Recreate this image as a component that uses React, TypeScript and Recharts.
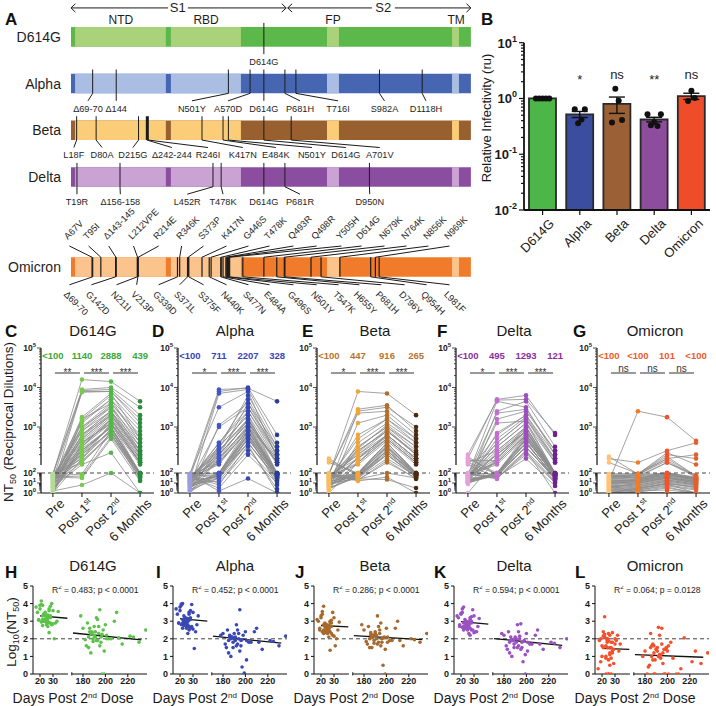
import React from "react";
import {
  Bar,
  Cell,
  ComposedChart,
  ErrorBar,
  Line,
  ReferenceArea,
  ReferenceLine,
  Scatter,
  XAxis,
  YAxis,
} from "recharts";

const FONT = "'Liberation Sans', Arial, Helvetica, sans-serif";

// ---------- shared categories ----------
const variants = ["D614G", "Alpha", "Beta", "Delta", "Omicron"];

// ---------- panel A: spike maps (amino-acid positions) ----------
const spikeLength = 1273;
const lightSpans: [number, number][] = [
  [13, 302],
  [318, 541],
  [815, 853],
  [1213, 1235],
];
const domainLabels = ["NTD", "RBD", "FP", "TM"];
const domainCentres = [159, 430, 834, 1226];
const genomeRows = [0, 1, 2, 3, 4.93];
const genomeColors = [
  ["#5cb84a", "#a9d27b"],
  ["#4766b2", "#aabee3"],
  ["#99602f", "#fbcd78"],
  ["#8b4d9f", "#caa3d4"],
  ["#f07b2b", "#fbc48c"],
];

type Mut = [string, number, number]; // label, residue, label residue
const d614gMuts: Mut[] = [["D614G", 614, 614]];
const alphaMuts: Mut[] = [
  ["Δ69-70", 69, 54],
  ["Δ144", 144, 144],
  ["N501Y", 501, 385],
  ["A570D", 570, 500],
  ["D614G", 614, 614],
  ["P681H", 681, 729],
  ["T716I", 716, 850],
  ["S982A", 982, 998],
  ["D1118H", 1118, 1130],
];
const betaMuts: Mut[] = [
  ["L18F", 18, 9],
  ["D80A", 80, 99],
  ["D215G", 215, 197],
  ["Δ242-244", 242, 321],
  ["R246I", 246, 436],
  ["K417N", 417, 547],
  ["E484K", 484, 652],
  ["N501Y", 501, 767],
  ["D614G", 614, 875],
  ["A701V", 701, 983],
];
const deltaMuts: Mut[] = [
  ["T19R", 19, 19],
  ["Δ156-158", 156, 157],
  ["L452R", 452, 370],
  ["T478K", 478, 484],
  ["D614G", 614, 614],
  ["P681R", 681, 729],
  ["D950N", 950, 951],
];
const omicronTop: Mut[] = [
  ["A67V", 67, -10],
  ["T95I", 95, 51],
  ["Δ143-145", 143, 115],
  ["L212VPE", 212, 194],
  ["R214E", 214, 274],
  ["R346K", 346, 347],
  ["S373P", 373, 417],
  ["K417N", 417, 490],
  ["G446S", 446, 560],
  ["T478K", 478, 627],
  ["Q493R", 493, 703],
  ["Q498R", 498, 777],
  ["Y505H", 505, 856],
  ["D614G", 614, 920],
  ["N679K", 679, 993],
  ["N764K", 764, 1063],
  ["N856K", 856, 1133],
  ["N969K", 969, 1200],
];
const omicronBottom: Mut[] = [
  ["Δ69-70", 69, -10],
  ["G142D", 142, 60],
  ["N211I", 211, 140],
  ["V213P", 213, 204],
  ["G339D", 339, 274],
  ["S371L", 371, 341],
  ["S375F", 375, 417],
  ["N440K", 440, 490],
  ["S477N", 477, 560],
  ["E484A", 484, 627],
  ["G496S", 496, 703],
  ["N501Y", 501, 777],
  ["T547K", 547, 847],
  ["H655Y", 655, 913],
  ["P681H", 681, 983],
  ["D796Y", 796, 1057],
  ["Q954H", 954, 1127],
  ["L981F", 981, 1200],
];
const thickMutations = new Set(["Δ242-244", "Δ143-145"]);

// ---------- panel B: relative infectivity ----------
const infMean = [1.0, 0.52, 0.8, 0.42, 1.1];
const infSem = [0, 0.065, 0.26, 0.04, 0.14];
const infDots = [
  [1, 1, 1, 1, 1],
  [0.64, 0.36, 0.42, 0.64],
  [0.37, 1.5, 0.91, 0.41],
  [0.52, 0.33, 0.38, 0.32, 0.52],
  [0.9, 1.37, 1.02],
];
const infSig = ["", "*", "ns", "**", "ns"];
const barColors = ["#4cb649", "#3a4d9f", "#9b6035", "#8e4c9c", "#ef4d2a"];

// ---------- panels C-G: NT50 (log10) per subject ----------
const timeLabels = [
  ["Pre", ""],
  ["Post 1", "st"],
  ["Post 2", "nd"],
  ["6 Months", ""],
];
const d614gPre = [1.2,0.5,1.8,0,1.5,0.9,1.9,0.3,1.1,1.6,0.7,1.4, 0,1.9,1.0,0.6,1.7,1.3,0.2,1.8,0.8,1.5,1.9,0.4, 1.2,1.6,0,1.0,1.7,0.5,1.3,1.9,0.9,1.4,0.1,1.8, 1.1,0.7,1.6,1.2,0.3,1.9,1.5,0.8,1.0,1.7,0.6,1.4];
const d614gPost1 = [2.8,3.9,2.3,2.6,3.2,2.1,4.2,2.5,2.9,1.5,2.4,3.0, 2.2,3.95,2.7,2.05,2.6,3.1,0.8,2.4,2.8,2.3,3.92,2.5, 2.15,2.9,3.2,2.6,1.9,2.35,3.0,2.2,2.7,3.88,2.45,2.1, 2.8,2.55,1.7,3.15,2.3,2.65,2.95,2.4,3.25,2.2,2.75,2.5];
const d614gPost2 = [3.3,3.9,2.9,3.1,3.6,2.8,4.15,3.2,3.4,2.7,3.0,3.5, 2.9,4.0,3.3,2.35,3.1,3.7,2.0,3.0,3.4,2.9,3.95,3.2, 2.8,3.5,3.8,3.2,2.9,3.0,3.6,3.1,3.3,3.9,3.0,2.85, 3.4,3.15,2.75,3.7,3.05,3.25,3.55,3.0,3.85,2.95,3.35,3.1];
const d614gMonth6 = [2.3,3.2,1.8,2.1,2.8,1.6,3.65,2.2,2.5,1.2,2.0,2.6, 1.9,3.5,2.4,0,2.1,2.9,0,2.0,2.3,1.7,3.3,2.2, 1.9,2.4,3.0,2.1,1.5,1.8,2.7,2.0,2.3,3.1,1.95,1.3, 2.4,2.15,1.6,2.6,2.05,2.25,2.5,1.85,2.7,2.0,2.35,2.1];

const alphaPre = [0.9,1.5,0.3,1.8,1.1,0.6,1.9,1.3,0,1.6,0.8,1.2, 1.9,0.4,1.7,1.0,1.4,0.2,1.8,0.7,1.5,1.1,1.9,0.5, 1.3,1.6,0,1.0,1.8,0.6,1.4,1.9,0.9,1.2,0.1,1.7, 1.5,0.8,1.9,1.1,0.3,1.6,1.3,0.7,1.0,1.8,0.4,1.5];
const alphaPost1 = [2.3,3.9,1.5,2.1,3.0,1.8,3.95,2.4,2.2,0.5,2.0,2.6, 1.9,3.85,2.3,1.2,2.1,3.05,0.2,2.0,2.5,1.7,3.5,2.2, 1.6,2.4,2.55,2.1,1.0,1.8,2.6,2.0,2.3,2.45,1.9,0.8, 2.2,2.0,1.4,2.35,1.95,2.15,2.5,1.5,2.25,1.7,2.4,2.05];
const alphaPost2 = [3.1,4.0,2.7,2.9,3.5,2.6,3.98,3.2,3.0,2.3,2.8,3.4, 2.7,3.95,3.1,2.5,2.9,3.6,1.45,2.8,3.3,2.6,3.9,3.0, 2.7,3.2,3.7,3.0,2.4,2.8,3.5,2.9,3.1,3.8,2.85,2.55, 3.2,3.0,2.6,3.4,2.9,3.05,3.3,2.75,3.6,2.8,3.15,2.95];
const alphaMonth6 = [2.1,2.8,1.6,1.9,2.4,1.5,3.65,2.0,2.2,1.0,1.8,2.3, 1.7,2.6,2.1,0.4,1.9,2.5,0,1.8,2.0,1.4,2.2,1.9, 1.6,2.1,2.4,1.9,1.2,1.6,2.3,1.8,2.0,2.5,1.7,0.05, 2.1,1.9,1.3,2.2,1.8,1.95,2.15,1.5,2.3,0.8,2.05,1.85];

const betaPre = [1.2,1.8,0.5,2.1,1.4,0.9,1.9,1.6,0,1.7,1.1,1.3, 2.2,0.7,1.8,1.0,1.5,0.3,1.9,0.8,1.6,1.2,2.0,0.6, 1.4,1.7,0.2,1.1,1.9,0.9,1.5,2.15,1.0,1.3,0.4,1.8, 1.6,0.9,1.9,1.2,0.5,1.7,1.4,0.8,1.1,1.85,0.6,1.5];
const betaPost1 = [2.2,3.9,1.6,2.0,2.7,1.8,3.45,2.3,2.1,1.3,1.9,2.5, 1.7,3.4,2.2,1.4,2.0,3.1,1.2,1.9,2.4,1.6,3.35,2.1, 1.5,2.3,2.6,2.0,1.4,1.8,2.5,1.9,2.2,2.8,1.7,1.3, 2.1,1.9,1.5,2.4,1.8,2.05,2.35,1.6,2.45,1.7,2.25,1.95];
const betaPost2 = [2.8,3.85,2.4,2.6,3.2,2.3,3.55,2.9,2.7,2.1,2.5,3.0, 2.4,3.5,2.8,1.35,2.6,3.3,1.6,2.5,2.9,2.3,3.4,2.7, 2.2,2.8,3.1,2.6,2.0,2.4,3.0,2.5,2.7,3.2,2.45,2.15, 2.8,2.6,2.3,2.9,2.5,2.65,2.95,2.35,3.05,2.4,2.75,2.55];
const betaMonth6 = [2.2,3.3,1.8,2.0,2.6,1.7,2.9,2.3,2.1,1.5,1.9,2.5, 1.8,3.0,2.2,0.5,2.0,2.7,0,1.9,2.3,1.6,2.8,2.1, 1.7,2.2,2.6,2.0,1.5,1.8,2.4,1.9,2.1,2.7,1.85,1.4, 2.2,2.0,1.6,2.35,1.9,2.05,2.3,1.75,2.5,1.8,2.15,1.95];

const deltaPre = [1.5,2.2,1.0,1.8,2.0,1.2,2.3,1.6,0,1.9,1.3,1.7, 2.1,1.1,1.8,1.4,2.0,0.9,1.9,1.2,1.6,2.25,1.8,1.0, 1.5,2.1,1.3,1.7,1.9,1.1,1.6,2.2,1.4,1.8,1.0,2.05, 1.7,1.2,1.9,1.5,1.1,2.15,1.6,1.3,1.4,2.0,1.2,1.75];
const deltaPost1 = [2.3,3.7,1.8,2.1,2.8,1.9,3.68,2.4,2.2,1.5,2.0,2.6, 1.9,3.4,2.3,1.6,2.1,3.2,1.4,2.0,2.5,1.8,3.65,2.2, 1.7,2.4,2.85,2.1,1.6,1.9,2.6,2.0,2.3,3.35,1.95,1.5, 2.2,2.0,1.7,2.5,1.9,2.15,3.1,1.8,2.7,1.9,2.35,2.05];
const deltaPost2 = [2.9,3.8,2.6,2.8,3.3,2.5,3.7,3.0,2.9,2.3,2.7,3.2, 2.6,3.65,2.9,2.2,2.8,3.4,2.4,2.7,3.1,2.5,3.5,2.9, 2.5,3.0,3.3,2.8,2.4,2.6,3.2,2.7,2.9,3.45,2.75,2.35, 3.0,2.8,2.5,3.1,2.7,2.85,3.15,2.6,3.25,2.65,2.95,2.75];
const deltaMonth6 = [1.9,2.8,1.5,1.8,2.3,1.4,2.85,2.0,1.9,1.0,1.7,2.2, 1.6,2.5,1.9,0.7,1.8,2.4,0,1.7,2.0,1.4,2.3,1.8, 1.5,1.9,2.2,1.8,1.2,1.5,2.1,1.7,1.9,2.4,1.6,1.1, 2.0,1.8,1.4,2.1,1.7,1.85,2.0,1.5,2.15,1.3,1.95,1.75];

const omicronPre = [0.5,1.2,0,1.8,0.9,0.3,2.2,1.0,0,1.5,0.6,1.1, 1.9,0.2,1.4,0.8,1.6,0,1.7,0.4,1.3,2.25,1.0,0.1, 0.7,1.5,0,0.9,2.1,0.3,1.2,1.8,0.5,1.0,0,1.6, 1.3,0.6,1.9,0.8,0.2,1.4,1.1,0.4,0.7,1.7,0,1.2];
const omicronPost1 = [1.0,3.4,0.5,1.5,1.2,0.3,2.1,1.3,0,1.8,0.8,1.4, 1.9,0.2,1.6,0,1.7,0.4,1.5,0.6,1.2,1.9,1.1,0, 0.9,1.6,0.2,1.0,1.95,0.5,1.3,1.7,0.7,1.1,0,1.8, 1.4,0.6,1.9,1.0,0.3,1.5,1.2,0.4,0.8,1.85,0.1,1.3];
const omicronPost2 = [1.5,3.25,0.9,2.0,1.7,0.8,2.4,1.8,0,2.2,1.3,1.9, 2.3,0.6,2.1,0,2.0,1.0,1.9,1.2,1.6,2.35,1.5,0, 1.4,2.0,0.3,1.5,2.2,1.0,1.8,2.1,1.2,1.6,0,2.0, 1.9,1.1,2.25,1.5,0.7,1.9,1.7,0.9,1.3,2.15,0.5,1.8];
const omicronMonth6 = [1.2,2.65,0.6,1.5,1.3,0.4,2.6,1.4,0,1.7,0.9,1.3, 2.2,0,1.6,0,1.5,0.5,1.4,0.8,1.1,2.05,1.0,0, 1.0,1.6,0,1.2,2.3,0.6,1.4,1.8,0.8,1.1,0,1.5, 1.3,0.7,1.7,1.0,0.3,1.4,1.2,0,0.9,1.6,0,1.3];

const titers = [
  [d614gPre, d614gPost1, d614gPost2, d614gMonth6],
  [alphaPre, alphaPost1, alphaPost2, alphaMonth6],
  [betaPre, betaPost1, betaPost2, betaMonth6],
  [deltaPre, deltaPost1, deltaPost2, deltaMonth6],
  [omicronPre, omicronPost1, omicronPost2, omicronMonth6],
];
const gmtLabels = [
  ["<100", "1140", "2888", "439"],
  ["<100", "711", "2207", "328"],
  ["<100", "447", "916", "265"],
  ["<100", "495", "1293", "121"],
  ["<100", "<100", "101", "<100"],
];
const sigLabels = [
  ["**", "***", "***"],
  ["*", "***", "***"],
  ["*", "***", "***"],
  ["*", "***", "***"],
  ["ns", "ns", "ns"],
];
const dotColors = [
  ["#b3db97", "#76cc4a", "#52b848", "#2b8a3e"],
  ["#9a9ee0", "#4356c8", "#3447b2", "#2a3c9a"],
  ["#f6bd63", "#f0a53a", "#b06e2b", "#4b2a12"],
  ["#e7a0dc", "#c070cf", "#9e4dbd", "#6e2190"],
  ["#fcc37a", "#f57a24", "#f2542a", "#e2602c"],
];
const gmtColors = ["#3aa935", "#3a3fbf", "#b8742f", "#8a2ca0", "#f05a28"];

// ---------- panels H-L: days after 2nd dose ----------
const daysPost2 = [24,22,27,19,30,25,21,28,23,26,33,18, 25,29,22,27,24,20,31,26,23,28,21,25, 29,24,17,26,32,23,27,22,28,20,25,30, 24,26,22,27,19,25,34,23,28,21,26,24];
const daysMonth6 = [188,192,196,185,200,183,195,190,198,187,205,180, 193,210,186,197,191,184,199,189,194,215,178,201, 192,188,208,196,185,230,190,203,187,193,182,199, 191,222,195,186,212,197,236,189,194,201,188,225];
const dayTicks = [20, 30, 180, 200, 220];
const fitIntercept = [3.43, 3.28, 2.83, 3.1, 1.5];
const fitSlope = [-0.00643, -0.0066, -0.00377, -0.00637, -0.00236];
const r2Values = ["0.483", "0.452", "0.286", "0.594", "0.064"];
const pValues = ["p < 0.0001", "p < 0.0001", "p < 0.0001", "p < 0.0001", "p = 0.0128"];
const scatterColors = ["#5cc24a", "#3a48b5", "#a66a2e", "#9a52c2", "#f4502b"];

// ---------- layout ----------
const titerAxisX = [41, 178, 317, 456, 597];
const decayAxisX = [33, 173, 314, 454, 595];
const titleX = [93, 235, 375, 514, 655];
const letterTopX = [5, 152, 302, 437, 573];
const letterBottomX = [5, 156, 295, 434, 575];

// broken axes: lower part 10^0-10^2 compressed, upper part 10^2-10^5
const yBreak = (lg: number) => (lg <= 2 ? lg : 2.65 + (lg - 2) * 3.95);
const xBreak = (day: number) => (day < 100 ? 7 + (day - 20) * 1.3 : 50 + (day - 180) * 1.12);

type TextItem = {
  x: number;
  y: number;
  text: string;
  size?: number;
  bold?: boolean;
  fill?: string;
  anchor?: "start" | "middle" | "end";
  rot?: number;
  base?: string;
  dy?: number;
  sup?: string;
  tail?: string;
};

const textShape = (props: any) => {
  const { cx, cy, payload } = props;
  if (cx == null || cy == null || !payload) return <g />;
  const t = payload as TextItem;
  const size = t.size ?? 10;
  return (
    <text
      x={cx}
      y={cy}
      dy={t.dy ?? 0}
      textAnchor={t.anchor ?? "middle"}
      dominantBaseline={t.base ?? "central"}
      fontSize={size}
      fontWeight={t.bold ? 700 : 400}
      fill={t.fill ?? "#1e1e1e"}
      fontFamily={FONT}
      transform={t.rot ? `rotate(${t.rot} ${cx} ${cy})` : undefined}
    >
      {t.text}
      {t.sup ? (
        <tspan dy={-size * 0.4} fontSize={size * 0.7}>
          {t.sup}
        </tspan>
      ) : null}
      {t.tail ? <tspan dy={t.sup ? size * 0.4 : 0}>{t.tail}</tspan> : null}
    </text>
  );
};

const dotShape = (r: number, fill: string) => (props: any) =>
  props.cx == null ? <g /> : <circle cx={props.cx} cy={props.cy} r={r} fill={fill} />;

type Seg = { x1: number; y1: number; x2: number; y2: number; w: number };

function GenomePanel() {
  const segs: Seg[] = [];
  const texts: TextItem[] = [];
  const seg = (x1: number, y1: number, x2: number, y2: number, w = 1) => segs.push({ x1, y1, x2, y2, w });

  // S1 / S2 arrows
  const ay = -0.62;
  const arrow = (a: number, b: number, gapA: number, gapB: number) => {
    seg(a, ay, gapA, ay);
    seg(gapB, ay, b, ay);
    seg(a, ay, a + 14, ay - 0.09);
    seg(a, ay, a + 14, ay + 0.09);
    seg(b, ay, b - 14, ay - 0.09);
    seg(b, ay, b - 14, ay + 0.09);
  };
  arrow(0, 685, 309, 372);
  arrow(690, spikeLength, 958, 1031);
  texts.push({ x: 340, y: ay, text: "S1", size: 13 });
  texts.push({ x: 994, y: ay, text: "S2", size: 13 });
  domainLabels.forEach((d, i) => texts.push({ x: domainCentres[i], y: -0.36, text: d, size: 12 }));

  variants.forEach((name, i) => texts.push({ x: -32, y: genomeRows[i], text: name, anchor: "end", size: 14 }));

  [d614gMuts, alphaMuts, betaMuts, deltaMuts].forEach((muts, i) => {
    const r = genomeRows[i];
    muts.forEach(([label, aa, lx]) => {
      const w = thickMutations.has(label) ? 2.4 : 1;
      seg(aa, r - 0.3, aa, r + 0.21, w);
      seg(aa, r + 0.21, lx, r + 0.37);
      texts.push({ x: lx, y: r + 0.54, text: label, size: 9.2 });
    });
  });

  const ro = genomeRows[4];
  omicronTop.forEach(([label, aa, lx]) => {
    seg(aa, ro - 0.21, aa, ro + 0.21, thickMutations.has(label) ? 1.8 : 1.2);
    seg(aa, ro - 0.21, lx + 5, ro - 0.45);
    texts.push({ x: lx, y: ro - 0.58, text: label, size: 9.2, rot: -45, anchor: "start", base: "alphabetic" });
  });
  omicronBottom.forEach(([label, aa, lx]) => {
    seg(aa, ro - 0.21, aa, ro + 0.21, 1.2);
    seg(aa, ro + 0.21, lx + 5, ro + 0.38);
    texts.push({ x: lx, y: ro + 0.5, text: label, size: 9.2, rot: 45, anchor: "start", base: "hanging" });
  });

  return (
    <div style={{ position: "absolute", left: 0, top: 0 }}>
      <ComposedChart width={480} height={345} margin={{ top: 0, right: 0, bottom: 0, left: 0 }}>
        <XAxis type="number" dataKey="x" domain={[-226, 1302]} hide allowDataOverflow />
        <YAxis type="number" domain={[-0.79, 6.6]} reversed hide allowDataOverflow />
        {variants.map((_, i) => (
          <ReferenceArea
            key={`dark${i}`}
            x1={0}
            x2={spikeLength}
            y1={genomeRows[i] - 0.21}
            y2={genomeRows[i] + 0.21}
            fill={genomeColors[i][0]}
            fillOpacity={1}
            stroke="none"
            ifOverflow="visible"
          />
        ))}
        {variants.map((_, i) =>
          lightSpans.map(([a, b], j) => (
            <ReferenceArea
              key={`light${i}-${j}`}
              x1={a}
              x2={b}
              y1={genomeRows[i] - 0.21}
              y2={genomeRows[i] + 0.21}
              fill={genomeColors[i][1]}
              fillOpacity={1}
              stroke="none"
              ifOverflow="visible"
            />
          )),
        )}
        {segs.map((s, i) => (
          <ReferenceLine
            key={`seg${i}`}
            segment={[
              { x: s.x1, y: s.y1 },
              { x: s.x2, y: s.y2 },
            ]}
            stroke="#1b1b1b"
            strokeWidth={s.w}
            ifOverflow="visible"
          />
        ))}
        <Scatter data={texts} dataKey="y" shape={textShape} isAnimationActive={false} />
      </ComposedChart>
    </div>
  );
}

const infTicks: number[] = [];
for (let e = -2; e <= 1; e++) infTicks.push(Math.pow(10, e));
for (let e = -2; e < 1; e++) for (let m = 2; m <= 9; m++) infTicks.push(m * Math.pow(10, e));

const infTick = (props: any) => {
  const { x, y, payload } = props;
  const lg = Math.log10(payload.value);
  const e = Math.round(lg);
  const major = Math.abs(lg - e) < 1e-6;
  return (
    <g>
      <line x1={x - (major ? 5 : 3)} x2={x} y1={y} y2={y} stroke="#111" strokeWidth={1.2} />
      {major ? (
        <text x={x - 7} y={y + 5} textAnchor="end" fontSize={13} fontWeight={700} fill="#1a1a1a" fontFamily={FONT}>
          10
          <tspan dy={-6} fontSize={9}>
            {e}
          </tspan>
        </text>
      ) : null}
    </g>
  );
};

const variantTick = (props: any) => {
  const { x, y, payload } = props;
  const ax = x + 6;
  const ay = y + 3;
  return (
    <text x={ax} y={ay} dy={9} textAnchor="end" transform={`rotate(-45 ${ax} ${ay})`} fontSize={13} fill="#1a1a1a" fontFamily={FONT}>
      {payload.value}
    </text>
  );
};

function InfectivityPanel() {
  const rows = variants.map((name, i) => ({ name, mean: infMean[i], sem: infSem[i] }));
  const dots = infDots.flatMap((vals, i) =>
    vals.map((y, j) => ({ x: i + (j - (vals.length - 1) / 2) * 0.09, y })),
  );
  const sig: TextItem[] = infSig
    .map((s, i) => ({ x: i, y: 2.6, text: s, size: 13, dy: s === "ns" ? -1 : 4 }))
    .filter((s) => s.text);
  return (
    <div style={{ position: "absolute", left: 480, top: 30 }}>
      <ComposedChart width={236} height={240} data={rows} margin={{ top: 12.7, right: 6, bottom: 0, left: 0 }}>
        <XAxis
          xAxisId="cat"
          dataKey="name"
          type="category"
          height={60}
          tickSize={5}
          tickMargin={0}
          interval={0}
          tick={variantTick}
          tickLine={{ stroke: "#111", strokeWidth: 1.2 }}
          axisLine={{ stroke: "#111", strokeWidth: 1.8 }}
        />
        <XAxis xAxisId="num" dataKey="x" type="number" domain={[-0.5, 4.5]} hide allowDataOverflow />
        <YAxis
          type="number"
          scale="log"
          domain={[0.01, 10]}
          ticks={infTicks}
          interval={0}
          width={44}
          tickSize={0}
          tickMargin={0}
          tickLine={false}
          tick={infTick}
          axisLine={{ stroke: "#111", strokeWidth: 1.8 }}
          allowDataOverflow
        />
        <Bar xAxisId="cat" dataKey="mean" barSize={27} stroke="#2a2a2a" strokeWidth={1.8} isAnimationActive={false}>
          {rows.map((_, i) => (
            <Cell key={i} fill={barColors[i]} />
          ))}
          <ErrorBar dataKey="sem" width={8} stroke="#111" strokeWidth={1.4} />
        </Bar>
        <Scatter xAxisId="num" data={dots} dataKey="y" shape={dotShape(3, "#111")} isAnimationActive={false} />
        <Scatter xAxisId="num" data={sig} dataKey="y" shape={textShape} isAnimationActive={false} />
      </ComposedChart>
    </div>
  );
}

const titerTicks: { u: number; exp: number | null }[] = [];
for (let e = 0; e <= 5; e++) titerTicks.push({ u: yBreak(e), exp: e });
for (let e = 0; e < 5; e++)
  for (let m = 2; m <= 9; m++) titerTicks.push({ u: yBreak(e + Math.log10(m)), exp: null });

const titerTick = (props: any) => {
  const { x, y, payload } = props;
  const info = titerTicks.find((t) => Math.abs(t.u - payload.value) < 1e-6);
  const major = info && info.exp != null;
  return (
    <g>
      <line x1={x - (major ? 4 : 2)} x2={x} y1={y} y2={y} stroke="#222" strokeWidth={0.8} />
      {major ? (
        <text x={x - 5} y={y + 3} textAnchor="end" fontSize={8.5} fontWeight={700} fill="#1a1a1a" fontFamily={FONT}>
          10
          <tspan dy={-4} fontSize={6}>
            {info!.exp}
          </tspan>
        </text>
      ) : null}
    </g>
  );
};

const timeTick = (props: any) => {
  const { x, y, payload } = props;
  const [main, sup] = timeLabels[payload.value] ?? ["", ""];
  const ax = x + 6;
  const ay = y + 1;
  return (
    <text x={ax} y={ay} dy={9} textAnchor="end" transform={`rotate(-45 ${ax} ${ay})`} fontSize={13} fill="#1a1a1a" fontFamily={FONT}>
      {main}
      {sup ? (
        <tspan dy={-5} fontSize={8}>
          {sup}
        </tspan>
      ) : null}
    </text>
  );
};

function TiterPanel({ v }: { v: number }) {
  const series = titers[v];
  const rows = timeLabels.map((_, t) => {
    const row: Record<string, number> = { x: t };
    series[t].forEach((val, s) => {
      row[`s${s}`] = yBreak(val);
    });
    return row;
  });
  const texts: TextItem[] = [
    ...gmtLabels[v].map((g, t) => ({ x: t, y: 13.8, text: g, bold: true, size: 9.5, fill: gmtColors[v] })),
    ...sigLabels[v].map((s, t) => ({ x: t + 0.5, y: 12, text: s, size: 10, dy: s === "ns" ? -5 : -1, fill: "#333" })),
  ];
  const xMin = -0.41;
  return (
    <div style={{ position: "absolute", left: titerAxisX[v] - 34, top: 340 }}>
      <ComposedChart width={149} height={214} data={rows} margin={{ top: 8, right: 2, bottom: 0, left: 0 }}>
        <XAxis
          type="number"
          dataKey="x"
          domain={[xMin, 3.48]}
          ticks={[0, 1, 2, 3]}
          interval={0}
          height={61}
          tickSize={4}
          tickMargin={0}
          tick={timeTick}
          tickLine={{ stroke: "#111" }}
          axisLine={{ stroke: "#111", strokeWidth: 1.2 }}
          allowDataOverflow
        />
        <YAxis
          type="number"
          domain={[0, 14.5]}
          ticks={titerTicks.map((t) => t.u)}
          interval={0}
          width={34}
          tickSize={0}
          tickMargin={0}
          tickLine={false}
          axisLine={false}
          tick={titerTick}
          allowDataOverflow
        />
        <ReferenceLine segment={[{ x: xMin, y: 0 }, { x: xMin, y: 2 }]} stroke="#111" strokeWidth={1.2} ifOverflow="visible" />
        <ReferenceLine segment={[{ x: xMin, y: 2.8 }, { x: xMin, y: 14.5 }]} stroke="#111" strokeWidth={1.2} ifOverflow="visible" />
        {series[0].map((_, s) => (
          <Line
            key={s}
            dataKey={`s${s}`}
            stroke="#8d8d8d"
            strokeWidth={0.8}
            dot={false}
            activeDot={false}
            legendType="none"
            isAnimationActive={false}
          />
        ))}
        <ReferenceLine y={2} stroke="#444" strokeDasharray="4 3" strokeWidth={1} />
        {[0, 1, 2].map((t) => (
          <ReferenceLine key={`sig${t}`} segment={[{ x: t + 0.07, y: 12 }, { x: t + 0.93, y: 12 }]} stroke="#333" strokeWidth={1} />
        ))}
        {timeLabels.map((_, t) => (
          <Scatter
            key={`dots${t}`}
            data={series[t].map((val) => ({ x: t, y: yBreak(val) }))}
            dataKey="y"
            shape={dotShape(2.3, dotColors[v][t])}
            isAnimationActive={false}
          />
        ))}
        <Scatter data={texts} dataKey="y" shape={textShape} isAnimationActive={false} />
      </ComposedChart>
    </div>
  );
}

function DecayPanel({ v }: { v: number }) {
  const post2 = titers[v][2];
  const month6 = titers[v][3];
  const pts = [
    ...post2.map((val, i) => ({ x: xBreak(daysPost2[i]), y: val })),
    ...month6.map((val, i) => ({ x: xBreak(daysMonth6[i]), y: val })),
  ];
  const fit = (d: number) => fitIntercept[v] + fitSlope[v] * d;
  const tickU = dayTicks.map(xBreak);
  const r2: TextItem[] = [
    { x: 19, y: 4.75, text: "R", sup: "2", tail: ` = ${r2Values[v]}; ${pValues[v]}`, size: 8.6, anchor: "start" },
  ];
  return (
    <div style={{ position: "absolute", left: decayAxisX[v] - 22, top: 580 }}>
      <ComposedChart width={140} height={112} margin={{ top: 6, right: 4, bottom: 0, left: 0 }}>
        <XAxis
          type="number"
          dataKey="x"
          domain={[0, 114]}
          ticks={tickU}
          interval={0}
          height={18}
          tickSize={3}
          tickMargin={1}
          axisLine={false}
          tickLine={{ stroke: "#111" }}
          tick={{ fontSize: 9, fontWeight: 700, fill: "#1a1a1a", fontFamily: FONT }}
          tickFormatter={(u: number) => String(dayTicks[tickU.findIndex((t) => Math.abs(t - u) < 1e-6)] ?? "")}
          allowDataOverflow
        />
        <YAxis
          type="number"
          domain={[0, 5]}
          ticks={[0, 1, 2, 3, 4, 5]}
          interval={0}
          width={22}
          tickSize={3}
          tickMargin={2}
          axisLine={{ stroke: "#111" }}
          tickLine={{ stroke: "#111" }}
          tick={{ fontSize: 9, fontWeight: 700, fill: "#1a1a1a", fontFamily: FONT }}
          allowDataOverflow
        />
        <ReferenceLine segment={[{ x: 0, y: 0 }, { x: xBreak(41.5), y: 0 }]} stroke="#111" strokeWidth={1} ifOverflow="visible" />
        <ReferenceLine segment={[{ x: xBreak(170), y: 0 }, { x: 114, y: 0 }]} stroke="#111" strokeWidth={1} ifOverflow="visible" />
        <ReferenceLine segment={[{ x: xBreak(170), y: -0.08 }, { x: xBreak(170), y: 0.1 }]} stroke="#111" strokeWidth={1} ifOverflow="visible" />
        <ReferenceLine y={2} stroke="#444" strokeDasharray="4 3" strokeWidth={1} />
        <Scatter data={pts} dataKey="y" shape={dotShape(1.8, scatterColors[v])} isAnimationActive={false} />
        <ReferenceLine segment={[{ x: xBreak(20), y: fit(20) }, { x: xBreak(41), y: fit(41) }]} stroke="#111" strokeWidth={1.3} ifOverflow="visible" />
        <ReferenceLine segment={[{ x: xBreak(171), y: fit(171) }, { x: xBreak(232), y: fit(232) }]} stroke="#111" strokeWidth={1.3} ifOverflow="visible" />
        <Scatter data={r2} dataKey="y" shape={textShape} isAnimationActive={false} />
      </ComposedChart>
    </div>
  );
}

function Overlay() {
  const letter = { fontSize: 17, fontWeight: 700, fill: "#111" } as const;
  return (
    <svg width={716} height={706} style={{ position: "absolute", left: 0, top: 0, pointerEvents: "none" }} fontFamily={FONT}>
      <text x={5} y={25} {...letter}>A</text>
      <text x={481} y={25} {...letter}>B</text>
      {["C", "D", "E", "F", "G"].map((l, i) => (
        <text key={l} x={letterTopX[i]} y={337} {...letter}>{l}</text>
      ))}
      {["H", "I", "J", "K", "L"].map((l, i) => (
        <text key={l} x={letterBottomX[i]} y={578} {...letter}>{l}</text>
      ))}
      {variants.map((n, i) => (
        <text key={`t1${n}`} x={titleX[i]} y={336} textAnchor="middle" fontSize={15} fill="#1a1a1a">{n}</text>
      ))}
      {variants.map((n, i) => (
        <text key={`t2${n}`} x={titleX[i]} y={571} textAnchor="middle" fontSize={15} fill="#1a1a1a">{n}</text>
      ))}
      <text transform="rotate(-90)" x={-422} y={13} textAnchor="middle" fontSize={13.5} fill="#1a1a1a">
        NT<tspan dy={3} fontSize={9}>50</tspan>
        <tspan dy={-3}> (Reciprocal Dilutions)</tspan>
      </text>
      <text transform="rotate(-90)" x={-118} y={491} textAnchor="middle" fontSize={13} fill="#1a1a1a">
        Relative Infectivity (ru)
      </text>
      <text transform="rotate(-90)" x={-632} y={16} textAnchor="middle" fontSize={13.5} fill="#1a1a1a">
        Log<tspan dy={3} fontSize={9}>10</tspan>
        <tspan dy={-3}>(NT</tspan>
        <tspan dy={3} fontSize={9}>50</tspan>
        <tspan dy={-3}>)</tspan>
      </text>
      {decayAxisX.map((ax, i) => (
        <text key={`dx${i}`} x={ax + 40} y={703} textAnchor="middle" fontSize={14} fill="#1a1a1a">
          Days Post 2<tspan dy={-5} fontSize={8}>nd</tspan>
          <tspan dy={5}> Dose</tspan>
        </text>
      ))}
    </svg>
  );
}

export default function App() {
  return (
    <div
      style={{
        position: "absolute",
        left: 0,
        top: 0,
        width: 716,
        height: 706,
        background: "#fff",
        overflow: "hidden",
        fontFamily: FONT,
      }}
    >
      <GenomePanel />
      <InfectivityPanel />
      {variants.map((_, v) => (
        <TiterPanel key={`titer${v}`} v={v} />
      ))}
      {variants.map((_, v) => (
        <DecayPanel key={`decay${v}`} v={v} />
      ))}
      <Overlay />
    </div>
  );
}
